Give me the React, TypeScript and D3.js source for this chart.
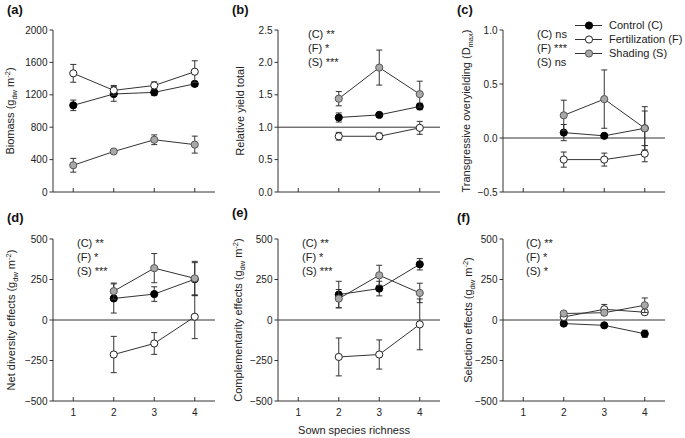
import React from "react";
import * as d3 from "d3";

const richness = [1, 2, 3, 4];
const mixRichness = [2, 3, 4];
const seriesNames = ["Control (C)", "Fertilization (F)", "Shading (S)"];

// (a) Biomass
const bioC = [1070, 1210, 1230, 1335];
const bioCErr = [65, 90, 40, 30];
const bioF = [1465, 1255, 1315, 1485];
const bioFErr = [110, 60, 45, 135];
const bioS = [330, 500, 645, 585];
const bioSErr = [85, 25, 60, 105];

// (b) Relative yield total
const rytC = [1.15, 1.19, 1.32];
const rytCErr = [0.07, 0.03, 0.05];
const rytF = [0.86, 0.86, 0.99];
const rytFErr = [0.06, 0.05, 0.1];
const rytS = [1.44, 1.92, 1.51];
const rytSErr = [0.11, 0.27, 0.2];

// (c) Transgressive overyielding
const dC = [0.05, 0.02, 0.09];
const dCErr = [0.075, 0.01, 0.16];
const dF = [-0.2, -0.2, -0.145];
const dFErr = [0.07, 0.06, 0.075];
const dS = [0.21, 0.36, 0.09];
const dSErr = [0.14, 0.27, 0.2];

// (d) Net diversity effects
const neC = [133, 160, 252];
const neCErr = [90, 45, 102];
const neF = [-213, -145, 20];
const neFErr = [112, 67, 135];
const neS = [178, 320, 257];
const neSErr = [50, 90, 105];

// (e) Complementarity effects
const ceC = [157, 194, 344];
const ceCErr = [82, 45, 35];
const ceF = [-228, -213, -27];
const ceFErr = [117, 90, 157];
const ceS = [132, 276, 167];
const ceSErr = [56, 62, 60];

// (f) Selection effects
const seC = [-22, -33, -85];
const seCErr = [8, 8, 22];
const seF = [19, 66, 48];
const seFErr = [8, 30, 8];
const seS = [40, 45, 91];
const seSErr = [10, 15, 45];

const ticksBio = [0, 400, 800, 1200, 1600, 2000];
const ticksRyt = [0, 0.5, 1, 1.5, 2, 2.5];
const ticksD = [-0.5, 0, 0.5, 1];
const ticksEff = [-500, -250, 0, 250, 500];

const statsB = ["(C) **", "(F) *", "(S) ***"];
const statsC = ["(C) ns", "(F) ***", "(S) ns"];
const statsD = ["(C) **", "(F) *", "(S) ***"];
const statsE = ["(C) **", "(F) *", "(S) ***"];
const statsF = ["(C) **", "(F) *", "(S) *"];

const FONT = "'Liberation Sans', Arial, Helvetica, sans-serif";
const fills = ["#000000", "#ffffff", "#a8a8a8"];
const strokes = ["#000000", "#222222", "#555555"];
const AX = "#333333";

type PanelProps = {
  ox: number;
  top: number;
  domain: [number, number];
  ticks: number[];
  fmt: (v: number) => string;
  xs: number[];
  vals: number[][];
  errs: number[][];
  refLine?: number;
  xLabels: boolean;
  title: React.ReactNode;
  titleX: number;
  label: string;
  labelY: number;
  stats: string[];
  statsX: number;
  statsY: number;
};

function Panel(p: PanelProps) {
  const x0 = 53 + p.ox;
  const w = 162;
  const h = 162;
  const bottom = p.top + h;
  const x = d3.scaleLinear().domain([0.5, 4.5]).range([x0, x0 + w]);
  const y = d3.scaleLinear().domain(p.domain).range([bottom, p.top]);
  const line = d3
    .line<[number, number]>()
    .x((d) => x(d[0]))
    .y((d) => y(d[1]));
  return (
    <g>
      <text x={p.ox + 7} y={p.labelY} fontSize={13} fontWeight="bold" fontFamily={FONT} fill="#111">
        {p.label}
      </text>
      {/* axes */}
      <line x1={x0} x2={x0} y1={p.top} y2={bottom} stroke={AX} strokeWidth={1} />
      <line x1={x0} x2={x0 + w} y1={bottom} y2={bottom} stroke={AX} strokeWidth={1} />
      {p.ticks.map((t) => (
        <g key={"yt" + t}>
          <line x1={x0 - 3.5} x2={x0} y1={y(t)} y2={y(t)} stroke={AX} />
          <text
            x={x0 - 5.5}
            y={y(t)}
            dy="0.35em"
            textAnchor="end"
            fontSize={10}
            fontFamily={FONT}
            fill="#222"
          >
            {p.fmt(t)}
          </text>
        </g>
      ))}
      {richness.map((r) => (
        <g key={"xt" + r}>
          <line x1={x(r)} x2={x(r)} y1={bottom} y2={bottom - 4} stroke={AX} />
          {p.xLabels && (
            <text x={x(r)} y={bottom + 11} dy="0.35em" textAnchor="middle" fontSize={10} fontFamily={FONT} fill="#222">
              {r}
            </text>
          )}
        </g>
      ))}
      {p.refLine !== undefined && (
        <line x1={x0} x2={x0 + w} y1={y(p.refLine)} y2={y(p.refLine)} stroke={AX} strokeWidth={1} />
      )}
      {/* y title */}
      <text
        transform={`translate(${p.titleX},${(p.top + bottom) / 2}) rotate(-90)`}
        textAnchor="middle"
        dy="0.35em"
        fontSize={11}
        fontFamily={FONT}
        fill="#222"
      >
        {p.title}
      </text>
      {/* stats */}
      {p.stats.map((s, i) => (
        <text key={s + i} x={p.statsX + p.ox} y={p.statsY + i * 14} dy="0.35em" fontSize={11} fontFamily={FONT} fill="#222">
          {s}
        </text>
      ))}
      {/* series */}
      {p.vals.map((v, si) => {
        const pts: [number, number][] = v.map((d, i) => [p.xs[i], d]);
        return (
          <g key={"s" + si}>
            <path d={line(pts) || ""} fill="none" stroke="#333" strokeWidth={1} />
            {pts.map((pt, i) => {
              const e = p.errs[si][i];
              const cx = x(pt[0]);
              const yt = y(pt[1] + e);
              const yb = y(pt[1] - e);
              return (
                <g key={i} stroke="#333" strokeWidth={1}>
                  <line x1={cx} x2={cx} y1={yt} y2={yb} />
                  <line x1={cx - 3} x2={cx + 3} y1={yt} y2={yt} />
                  <line x1={cx - 3} x2={cx + 3} y1={yb} y2={yb} />
                </g>
              );
            })}
            {pts.map((pt, i) => (
              <circle
                key={"c" + i}
                cx={x(pt[0])}
                cy={y(pt[1])}
                r={3.6}
                fill={fills[si]}
                stroke={strokes[si]}
                strokeWidth={1}
              />
            ))}
          </g>
        );
      })}
    </g>
  );
}

const gdw = (name: string) => (
  <>
    <tspan>{name + " (g"}</tspan>
    <tspan fontSize={7.5} dy={3}>dw</tspan>
    <tspan dy={-3}>{" m"}</tspan>
    <tspan fontSize={7.5} dy={-4}>-2</tspan>
    <tspan dy={4}>)</tspan>
  </>
);

export default function App() {
  const f0 = (v: number) => d3.format("d")(v);
  const f1 = (v: number) => d3.format(".1f")(v);
  const legendRows = [25.5, 39.5, 53.5];
  return (
    <svg width={685} height={438} style={{ position: "absolute", left: 0, top: 0, background: "#fff" }}>
      <rect width={685} height={438} fill="#fff" />
      <Panel ox={0} top={30} domain={[0, 2000]} ticks={ticksBio} fmt={f0} xs={richness}
        vals={[bioC, bioF, bioS]} errs={[bioCErr, bioFErr, bioSErr]} xLabels={false}
        title={gdw("Biomass")} titleX={10} label="(a)" labelY={14} stats={[]} statsX={0} statsY={0} />
      <Panel ox={225} top={30} domain={[0, 2.5]} ticks={ticksRyt} fmt={f1} xs={mixRichness}
        vals={[rytC, rytF, rytS]} errs={[rytCErr, rytFErr, rytSErr]} refLine={1} xLabels={false}
        title={<tspan>Relative yield total</tspan>} titleX={240} label="(b)" labelY={14}
        stats={statsB} statsX={83} statsY={34.5} />
      <Panel ox={450} top={30} domain={[-0.5, 1]} ticks={ticksD} fmt={f1} xs={mixRichness}
        vals={[dC, dF, dS]} errs={[dCErr, dFErr, dSErr]} refLine={0} xLabels={false}
        title={<>
          <tspan>Transgressive overyielding (D</tspan>
          <tspan fontSize={7.5} dy={3}>max</tspan>
          <tspan dy={-3}>)</tspan>
        </>} titleX={466} label="(c)" labelY={14}
        stats={statsC} statsX={87} statsY={34.5} />
      <Panel ox={0} top={239} domain={[-500, 500]} ticks={ticksEff} fmt={f0} xs={mixRichness}
        vals={[neC, neF, neS]} errs={[neCErr, neFErr, neSErr]} refLine={0} xLabels={true}
        title={gdw("Net diversity effects")} titleX={11} label="(d)" labelY={222}
        stats={statsD} statsX={77} statsY={243.5} />
      <Panel ox={225} top={239} domain={[-500, 500]} ticks={ticksEff} fmt={f0} xs={mixRichness}
        vals={[ceC, ceF, ceS]} errs={[ceCErr, ceFErr, ceSErr]} refLine={0} xLabels={true}
        title={gdw("Complementarity effects")} titleX={238} label="(e)" labelY={217}
        stats={statsE} statsX={77} statsY={243.5} />
      <Panel ox={450} top={239} domain={[-500, 500]} ticks={ticksEff} fmt={f0} xs={mixRichness}
        vals={[seC, seF, seS]} errs={[seCErr, seFErr, seSErr]} refLine={0} xLabels={true}
        title={gdw("Selection effects")} titleX={468} label="(f)" labelY={222}
        stats={statsF} statsX={76} statsY={243.5} />
      {/* legend */}
      {seriesNames.map((n, i) => (
        <g key={n}>
          <line x1={575} x2={602} y1={legendRows[i]} y2={legendRows[i]} stroke="#333" />
          <circle cx={589} cy={legendRows[i]} r={3.6} fill={fills[i]} stroke={strokes[i]} />
          <text x={609} y={legendRows[i]} dy="0.35em" fontSize={11} fontFamily={FONT} fill="#222">
            {n}
          </text>
        </g>
      ))}
      <text x={354} y={430} textAnchor="middle" dy="0.35em" fontSize={11} fontFamily={FONT} fill="#222">
        Sown species richness
      </text>
    </svg>
  );
}
